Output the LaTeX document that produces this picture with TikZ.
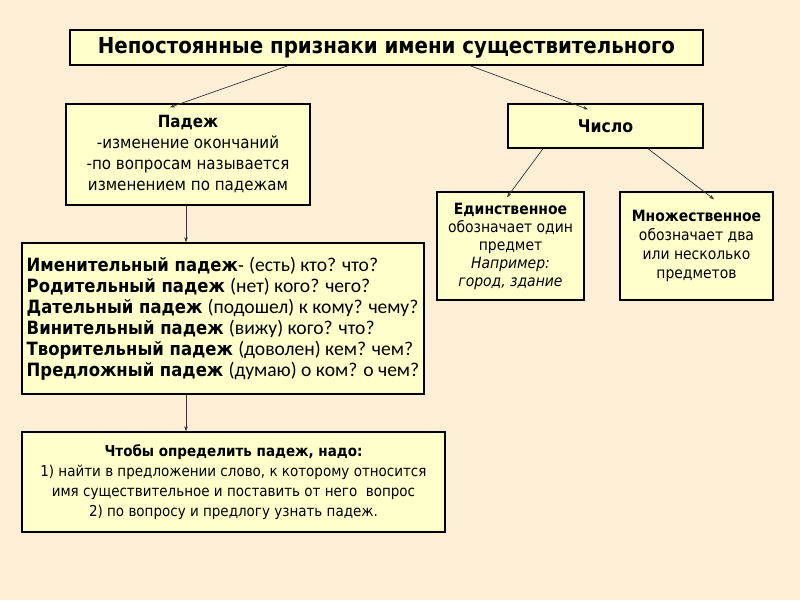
\documentclass[tikz,border=0pt]{standalone}
\usepackage{fontspec}
\setmainfont{DejaVu Sans Condensed}
\newfontfamily\calib{Carlito}
\usetikzlibrary{arrows.meta,shadows}
\definecolor{bg}{HTML}{FCEFD6}
\definecolor{boxfill}{HTML}{FFFFCC}
\newcommand\cq[1]{{\calib\fontsize{19.6}{21}\selectfont #1}}
\tikzset{
  box/.style={draw=black, line width=1.4pt, fill=boxfill, inner sep=0pt,
    align=center, anchor=center,
    drop shadow={shadow xshift=1.2pt, shadow yshift=-1.2pt, fill=black!45, opacity=0.6}},
  arr/.style={draw=black!80, line width=0.7pt, -{Stealth[length=5pt,width=3.5pt]}},
}
\begin{document}
\begin{tikzpicture}[x=1pt,y=-1pt]
\fill[bg] (0,0) rectangle (800,600);
\useasboundingbox (0,0) rectangle (800,600);

\node[box, minimum width=633pt, minimum height=35pt, font=\fontsize{22}{24}\selectfont\bfseries] (title) at (386.5,47.5)
  {Непостоянные признаки имени существительного};

\node[box, minimum width=244pt, minimum height=101pt, font=\fontsize{16.8}{21}\selectfont] (padezh) at (188,154.5)
  {\textbf{Падеж}\\-изменение окончаний\\-по вопросам называется\\ изменением по падежам};

\node[box, minimum width=195pt, minimum height=44pt, font=\fontsize{17.5}{20}\selectfont\bfseries] (chislo) at (605.5,126)
  {Число};

\node[box, minimum width=147pt, minimum height=108pt, font=\fontsize{15.5}{18}\selectfont] (ed) at (510.5,246)
  {\textbf{Единственное}\\обозначает один\\предмет\\\textit{Например:}\\\textit{город, здание}};

\node[box, minimum width=153pt, minimum height=108pt, font=\fontsize{15.5}{19}\selectfont] (mn) at (696.5,246)
  {\textbf{Множественное}\\обозначает два\\или несколько\\предметов};

\node[box, minimum width=402pt, minimum height=151pt, align=left, font=\fontsize{18.3}{21}\selectfont] (cases) at (223,318.5)
  {\textbf{Именительный падеж}- \cq{(есть) кто? что?}\\
   \textbf{Родительный падеж} \cq{(нет) кого? чего?}\\
   \textbf{Дательный падеж} \cq{(подошел) к кому? чему?}\\
   \textbf{Винительный падеж} \cq{(вижу) кого? что?}\\
   \textbf{Творительный падеж} \cq{(доволен) кем? чем?}\\
   \textbf{Предложный падеж} \cq{(думаю) о ком? о чем?}};

\node[box, minimum width=423pt, minimum height=100pt, font=\fontsize{15}{20}\selectfont] (bottom) at (233.5,482)
  {\textbf{Чтобы определить падеж, надо:}\\
   1) найти в предложении слово, к которому относится\\
   имя существительное и поставить от него\ \ вопрос\\
   2) по вопросу и предлогу узнать падеж.};

\draw[arr] ([xshift=-98.5pt]title.south) -- ([xshift=-18pt,yshift=-4pt]padezh.north);
\draw[arr] ([xshift=83.5pt]title.south) -- ([xshift=-17.5pt,yshift=-6pt]chislo.north);
\draw[arr] ([xshift=-62.5pt]chislo.south) -- ([xshift=-3.5pt,yshift=-6pt]ed.north);
\draw[arr] ([xshift=42.5pt]chislo.south) -- ([xshift=17.5pt,yshift=-8pt]mn.north);
\draw[arr] ([xshift=-2pt]padezh.south) -- ([xshift=-37pt]cases.north);
\draw[arr] ([xshift=-37pt]cases.south) -- ([xshift=-47.5pt]bottom.north);
\end{tikzpicture}
\end{document}
